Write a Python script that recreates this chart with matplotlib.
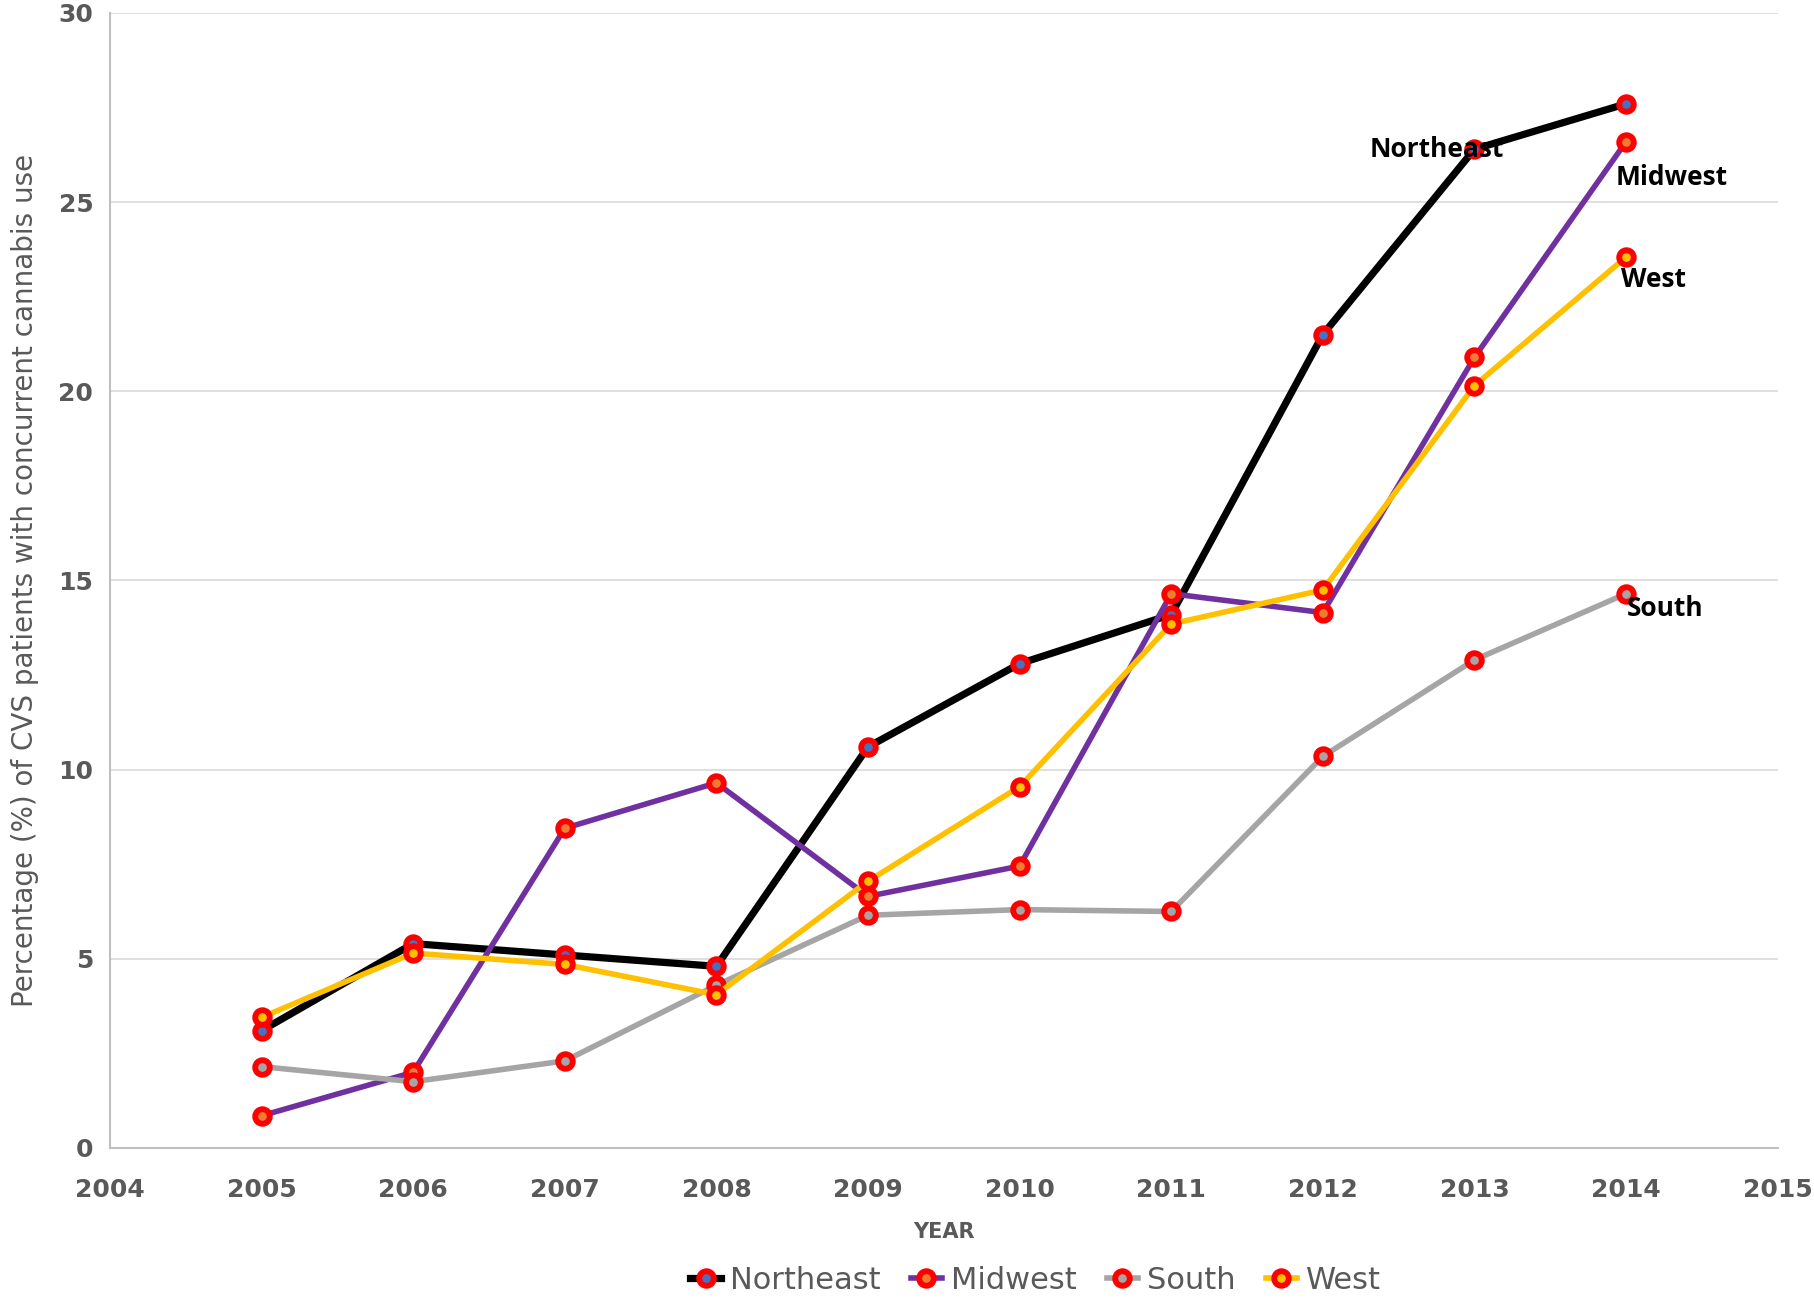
import numpy as np
import matplotlib.pyplot as plt

# ---- data ----
years = [2005, 2006, 2007, 2008, 2009, 2010, 2011, 2012, 2013, 2014]
northeast = [3.1, 5.4, 5.1, 4.8, 10.6, 12.8, 14.1, 21.5, 26.4, 27.6]
midwest = [0.85, 2.0, 8.45, 9.65, 6.65, 7.45, 14.65, 14.15, 20.9, 26.6]
south = [2.15, 1.75, 2.3, 4.3, 6.15, 6.3, 6.25, 10.35, 12.9, 14.65]
west = [3.45, 5.15, 4.85, 4.05, 7.05, 9.55, 13.85, 14.75, 20.15, 23.55]

series = [
    ('Northeast', northeast, 'black', '#4472C4', 5.2),
    ('Midwest', midwest, '#7030A0', '#ED7D31', 4.0),
    ('South', south, '#A5A5A5', '#A5A5A5', 4.0),
    ('West', west, '#FFC000', '#FFC000', 4.0),
]

# end labels: (text, x, y)
end_labels = [
    ('Northeast', 2012.75, 26.4),
    ('Midwest', 2014.3, 25.65),
    ('West', 2014.18, 22.95),
    ('South', 2014.26, 14.25),
]

GRAY = '#595959'

fig = plt.figure(figsize=(18.14, 12.99), dpi=100)
ax = fig.add_axes([0.0606, 0.1163, 0.9194, 0.8737])

for name, vals, col, dot, lw in series:
    ax.plot(years, vals, color=col, lw=lw, label=name,
            marker='o', markersize=10.5, markeredgecolor='#FF0000',
            markeredgewidth=4.2, markerfacecolor=dot, zorder=3)

for txt, x, y in end_labels:
    ax.text(x, y, txt, ha='center', va='center', fontsize=19,
            fontweight='bold', family=['Open Sans', 'DejaVu Sans'],
            color='black', zorder=4)

ax.set_xlim(2004, 2015)
ax.set_ylim(0, 30)
ax.set_xticks(range(2004, 2016))
ax.set_yticks(range(0, 31, 5))
ax.tick_params(length=0, labelsize=18, labelcolor=GRAY)
ax.tick_params(axis='x', pad=22)
ax.tick_params(axis='y', pad=12)
for lab in ax.get_xticklabels() + ax.get_yticklabels():
    lab.set_fontweight('bold')

ax.grid(axis='y', color='#D9D9D9', lw=1.2)
ax.set_axisbelow(True)
for s in ['top', 'right']:
    ax.spines[s].set_visible(False)
for s in ['left', 'bottom']:
    ax.spines[s].set_color('#BFBFBF')
    ax.spines[s].set_linewidth(1.5)

ax.set_xlabel('YEAR', fontsize=15, fontweight='bold', color=GRAY,
              labelpad=14)
ax.set_ylabel('Percentage (%) of CVS patients with concurrent cannabis use',
              fontsize=20, color=GRAY, labelpad=14)

ax.legend(loc='upper center', bbox_to_anchor=(0.555, -0.088), ncol=4,
          frameon=False, prop={'size': 22},
          labelcolor=GRAY, handlelength=1.0, handletextpad=0.3,
          columnspacing=1.0, borderpad=0.1)

fig.savefig('out.png', dpi=100)
